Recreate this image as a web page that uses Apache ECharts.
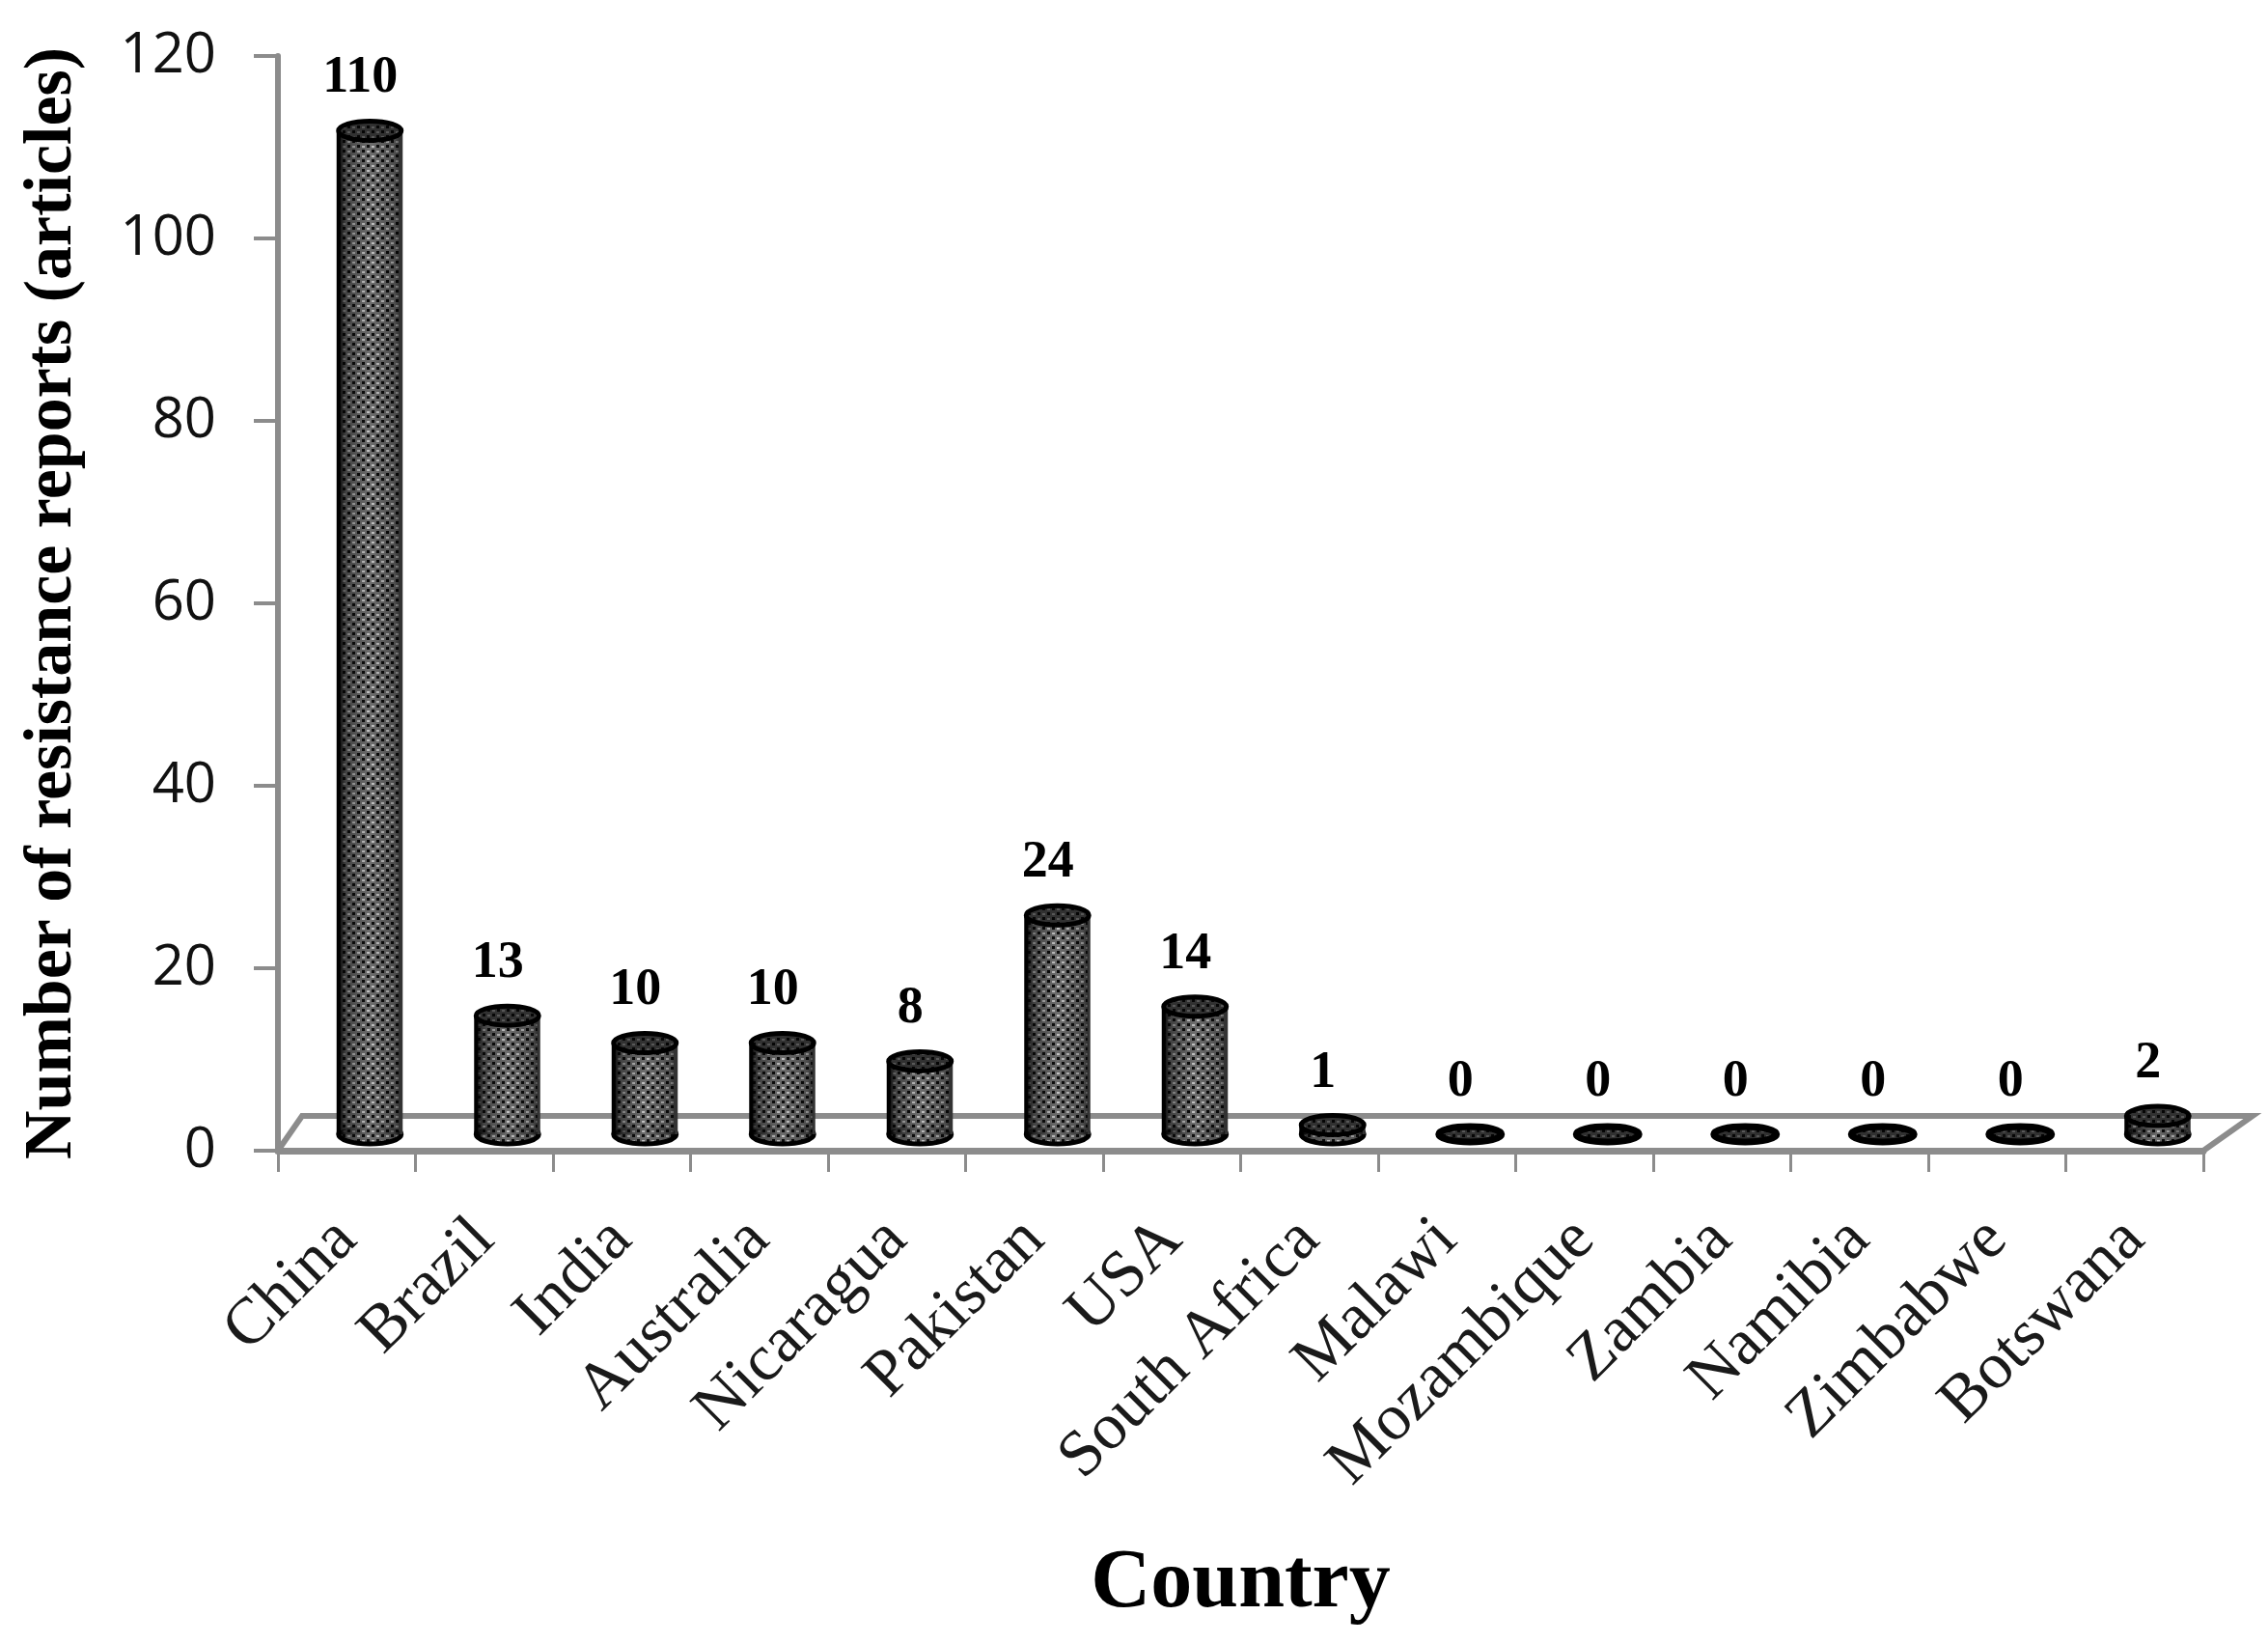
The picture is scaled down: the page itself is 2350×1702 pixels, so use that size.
<!DOCTYPE html>
<html><head><meta charset="utf-8">
<script src="https://cdn.jsdelivr.net/npm/echarts@6/dist/echarts.min.js"></script>
<style>html,body{margin:0;background:#fff}#c{width:2350px;height:1702px}</style></head>
<body><div id="c"></div>
<script>
const countries = ['China','Brazil','India','Australia','Nicaragua','Pakistan','USA','South Africa','Malawi','Mozambique','Zambia','Namibia','Zimbabwe','Botswana'];
const reports = [110,13,10,10,8,24,14,1,0,0,0,0,0,2];
const yTicks = {min:0,max:120,interval:20};
const serif = '"Liberation Serif"';
const gray = '#8c8c8c';

function makePattern(){
  const c=document.createElement('canvas');c.width=c.height=10;
  const g=c.getContext('2d');
  g.fillStyle='#6e6e6e';g.fillRect(0,0,10,10);
  g.fillStyle='#0c0c0c';
  [[0,0],[5,5]].forEach(p=>g.fillRect(p[0],p[1],3,3));
  g.fillStyle='#c4c4c4';
  [[5,1],[0,6]].forEach(p=>g.fillRect(p[0],p[1],3,2));
  return {image:c,repeat:'repeat'};
}
const pattern=makePattern();
const shade={type:'linear',x:0,y:0,x2:1,y2:0,colorStops:[
 {offset:0,color:'rgba(0,0,0,.95)'},{offset:.12,color:'rgba(0,0,0,.4)'},
 {offset:.5,color:'rgba(0,0,0,0)'},{offset:.9,color:'rgba(0,0,0,.3)'},{offset:1,color:'rgba(0,0,0,.65)'}]};

const offX=24, offY=-17, rx=32.5, ry=10;
function renderBar(params,api){
  const i=api.value(0), v=api.value(1);
  const base=api.coord([i,0]), top=api.coord([i,v]);
  const cx=base[0]+offX, by=base[1]+offY, ty=top[1]+offY;
  const kids=[];
  if(v>0){
    kids.push({type:'ellipse',shape:{cx,cy:by,rx,ry},style:{fill:pattern,stroke:'#000',lineWidth:5}});
    kids.push({type:'rect',shape:{x:cx-rx,y:ty,width:2*rx,height:by-ty},style:{fill:pattern}});
    kids.push({type:'rect',shape:{x:cx-rx,y:ty,width:2*rx,height:by-ty},style:{fill:shade}});
    kids.push({type:'ellipse',shape:{cx,cy:by,rx,ry},style:{fill:shade}});
    kids.push({type:'line',shape:{x1:cx-rx,y1:ty,x2:cx-rx,y2:by},style:{stroke:'#000',lineWidth:4}});
    kids.push({type:'line',shape:{x1:cx+rx,y1:ty,x2:cx+rx,y2:by},style:{stroke:'#333',lineWidth:3}});
  }
  const topRy=v>0?ry:8;
  kids.push({type:'ellipse',shape:{cx,cy:ty,rx,ry:topRy},style:{fill:pattern,stroke:'#000',lineWidth:v>0?5:7}});
  kids.push({type:'ellipse',shape:{cx,cy:ty,rx,ry:topRy},style:{fill:'rgba(0,0,0,.55)'}});
  kids.push({type:'text',style:{text:String(v),x:cx-10,y:ty-54,align:'center',verticalAlign:'middle',
    font:'bold 54px '+serif,fill:'#000'}});
  return {type:'group',children:kids};
}
function renderFloor(params,api){
  const n=countries.length;
  const half=api.size([1,0])[0]/2;
  const a=api.coord([0,0]), b=api.coord([n-1,0]);
  const x0=a[0]-half, x1=b[0]+half, y=a[1];
  const depthX=25,depthY=-36;
  return {type:'polyline',shape:{points:[[x0,y],[x0+depthX,y+depthY],[x1+51,y+depthY],[x1,y]]},
    style:{stroke:gray,lineWidth:6,fill:null}};
}
const chart=echarts.init(document.getElementById('c'),null,{renderer:'canvas'});
chart.setOption({
  animation:false,backgroundColor:'#fff',
  grid:{left:288,right:67,top:58,bottom:510,containLabel:false,outerBoundsMode:'none'},
  xAxis:{type:'category',data:countries,boundaryGap:true,
    name:'Country',nameLocation:'middle',nameGap:407,
    nameTextStyle:{fontFamily:serif,fontWeight:'bold',fontSize:86,color:'#000'},
    axisLine:{show:true,lineStyle:{color:gray,width:7}},
    axisTick:{show:true,alignWithLabel:false,length:22,lineStyle:{color:gray,width:3}},
    axisLabel:{interval:0,rotate:45,margin:82,fontFamily:serif,fontSize:68,color:'#1a1a1a'},
    splitLine:{show:false}},
  yAxis:{type:'value',min:yTicks.min,max:yTicks.max,interval:yTicks.interval,
    name:'Number of resistance reports (articles)',nameLocation:'middle',nameGap:198,
    nameTextStyle:{fontFamily:serif,fontWeight:'bold',fontSize:70,color:'#000'},
    axisLine:{show:true,lineStyle:{color:gray,width:6}},
    axisTick:{show:true,length:25,lineStyle:{color:gray,width:4}},
    axisLabel:{margin:64,fontFamily:'"Open Sans"',fontSize:58,color:'#111'},
    splitLine:{show:false}},
  series:[
    {type:'custom',renderItem:renderFloor,data:[[0]],z:1,silent:true},
    {type:'custom',renderItem:renderBar,encode:{x:0,y:1},data:reports.map((v,i)=>[i,v]),z:3,clip:false}
  ]
});
</script></body></html>
